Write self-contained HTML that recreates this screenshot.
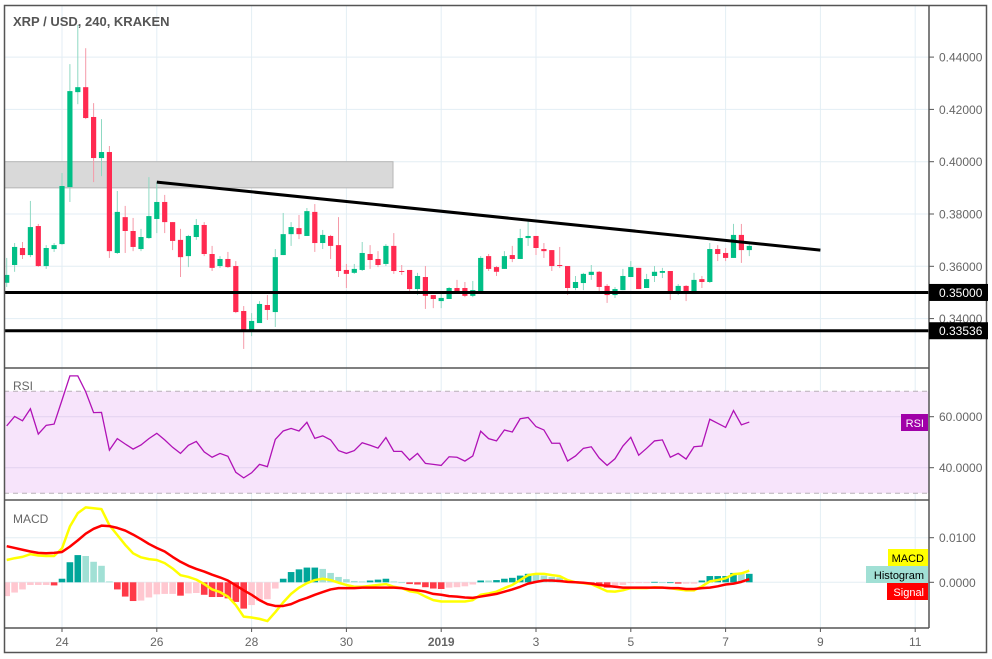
<!DOCTYPE html>
<html><head><meta charset="utf-8"><style>
html,body{margin:0;padding:0;background:#fff;}
svg{display:block;font-family:"Liberation Sans",sans-serif;}
</style></head><body>
<svg id="chart" width="992" height="659" viewBox="0 0 992 659" xmlns="http://www.w3.org/2000/svg">
<defs>
<clipPath id="cMain"><rect x="5" y="6" width="924" height="362"/></clipPath>
<clipPath id="cRsi"><rect x="5" y="369" width="924" height="131"/></clipPath>
<clipPath id="cMacd"><rect x="5" y="501" width="924" height="127"/></clipPath>
</defs>
<rect x="0" y="0" width="992" height="659" fill="#fff"/>
<g id="grid"></g>
<g id="mainPane" clip-path="url(#cMain)"></g>
<g id="rsiPane" clip-path="url(#cRsi)"></g>
<g id="macdPane" clip-path="url(#cMacd)"></g>
<g id="frame" fill="none" stroke="#555" stroke-width="1.5">
<rect x="4.5" y="5.5" width="982" height="647"/>
<line x1="929" y1="5" x2="929" y2="628"/>
<line x1="4" y1="368" x2="929" y2="368"/>
<line x1="4" y1="500" x2="929" y2="500"/>
<line x1="4" y1="628" x2="929" y2="628"/>
</g>
<text x="13" y="26" font-size="13" font-weight="bold" fill="#555">XRP / USD, 240, KRAKEN</text>
<text x="13" y="390" font-size="12" fill="#666">RSI</text>
<text x="13" y="523" font-size="12" fill="#666">MACD</text>
<g id="axes"></g>
</svg>
<script>
// ---- price data (4h candles) ----
const opens=[.3537,.3605,.3670,.3643,.3754,.3601,.3666,.3685,.3903,.4266,.4285,.4171,.4014,.4037,.3651,.3788,.3735,.3666,.3708,.3781,.3846,.3769,.3701,.3639,.3712,.3758,.3647,.3601,.3628,.3601,.3429,.3356,.3383,.3452,.3425,.3643,.3723,.3746,.3716,.3808,.3689,.3716,.3681,.3586,.3575,.3586,.3647,.3628,.3609,.3678,.3582,.3586,.3513,.3559,.3490,.3467,.3475,.3517,.3517,.3487,.3505,.3639,.3597,.3590,.3643,.3628,.3708,.3716,.3666,.3662,.3605,.3601,.3517,.3536,.3567,.3579,.3525,.3490,.3509,.3559,.3594,.3517,.3563,.3575,.3582,.3502,.3525,.3494,.3551,.3540,.3666,.3651,.3632,.3720,.3662];
const highs=[.3632,.3689,.3693,.3850,.3762,.3681,.3689,.3957,.4373,.4523,.4434,.4224,.4163,.4060,.3888,.3831,.3785,.3743,.3941,.3922,.3873,.3769,.3743,.3720,.3781,.3769,.3678,.3639,.3655,.3620,.3448,.3421,.3467,.3490,.3666,.3804,.3769,.3796,.3823,.3838,.3739,.3720,.3788,.3609,.3609,.3693,.3681,.3658,.3685,.3727,.3605,.3586,.3575,.3601,.3490,.3494,.3521,.3548,.3540,.3544,.3639,.3647,.3601,.3658,.3678,.3743,.3777,.3716,.3689,.3662,.3674,.3601,.3563,.3575,.3605,.3582,.3532,.3521,.3590,.3620,.3594,.3571,.3601,.3594,.3582,.3532,.3528,.3575,.3563,.3689,.3681,.3670,.3762,.3762,.3689];
const lows=[.3521,.3579,.3628,.3635,.3598,.3590,.3655,.3682,.3846,.4220,.4163,.3922,.3945,.3632,.3647,.3651,.3658,.3658,.3705,.3727,.3727,.3662,.3559,.3597,.3701,.3639,.3582,.3594,.3594,.3421,.3284,.3333,.3383,.3395,.3368,.3643,.3678,.3704,.3716,.3655,.3666,.3628,.3559,.3517,.3571,.3582,.3590,.3597,.3601,.3571,.3567,.3498,.3490,.3437,.3440,.3440,.3475,.3498,.3482,.3482,.3502,.3582,.3563,.3590,.3616,.3628,.3678,.3643,.3632,.3582,.3594,.3490,.3509,.3509,.3548,.3505,.3460,.3479,.3509,.3559,.3513,.3517,.3540,.3555,.3471,.3490,.3467,.3494,.3517,.3536,.3620,.3620,.3632,.3613,.3639];
const closes=[.3567,.3674,.3643,.3750,.3601,.3670,.3681,.3907,.4270,.4285,.4167,.4014,.4037,.3658,.3808,.3735,.3674,.3712,.3792,.3846,.3769,.3697,.3635,.3716,.3758,.3647,.3594,.3628,.3597,.3425,.3353,.3391,.3456,.3433,.3635,.3723,.3750,.3723,.3811,.3689,.3720,.3678,.3582,.3571,.3590,.3651,.3624,.3605,.3678,.3582,.3579,.3513,.3563,.3487,.3475,.3479,.3517,.3505,.3487,.3509,.3632,.3590,.3579,.3639,.3628,.3708,.3716,.3670,.3658,.3601,.3601,.3517,.3540,.3571,.3579,.3521,.3490,.3513,.3563,.3597,.3513,.3551,.3579,.3582,.3505,.3525,.3494,.3548,.3540,.3666,.3647,.3632,.3720,.3662,.3678];
// ---- RSI ----
const rsiValues=[56.4,60.1,58.4,63.1,53.2,56.6,57.1,66.5,76.0,76.0,69.8,61.6,61.7,46.9,51.4,49.3,47.3,48.9,51.4,53.5,50.9,48.0,45.6,48.8,50.3,46.2,44.1,45.6,44.5,38.2,36.0,38.0,41.3,40.4,51.1,54.4,55.4,54.4,57.8,51.5,52.5,50.9,46.7,45.6,46.7,49.8,48.8,47.7,51.8,46.4,46.4,43.0,45.6,41.7,41.3,40.9,44.3,44.1,42.6,44.6,54.3,51.4,50.5,54.8,54.0,59.2,59.7,56.1,54.8,49.6,49.6,42.6,44.6,47.6,48.2,43.8,40.9,43.5,48.5,51.9,44.9,47.6,50.5,50.9,44.1,45.6,43.4,48.2,48.5,59.0,57.4,55.8,62.4,56.8,57.9];
// ---- MACD (thousandths) ----
const macdMilli=[5.0,5.4,5.7,6.3,6.0,5.9,5.9,7.6,12.5,15.5,16.8,16.6,16.4,12.8,10.6,8.4,6.5,5.6,5.2,5.0,4.3,3.1,1.6,1.2,0.6,-0.4,-1.6,-2.2,-3.2,-5.1,-7.7,-7.9,-8.2,-8.7,-6.7,-4.5,-2.6,-1.2,-0.2,0.5,0.8,0.5,-0.1,-0.6,-1.0,-1.0,-0.8,-0.6,-0.4,-1.0,-1.3,-2.0,-2.3,-3.2,-4.0,-4.3,-4.3,-4.3,-4.3,-4.0,-2.8,-2.5,-2.1,-1.3,-0.6,0.5,1.6,1.9,1.9,1.6,1.4,0.5,0.0,-0.2,-0.4,-1.2,-2.0,-2.1,-1.8,-1.3,-1.3,-1.3,-1.1,-1.2,-1.3,-1.6,-1.8,-1.8,-0.9,0.2,0.5,0.9,1.8,2.0,2.6];
const signalMilli=[8.1,7.7,7.3,6.9,6.6,6.5,6.6,6.8,8.0,9.4,10.9,12.0,12.7,12.6,12.2,11.6,10.7,9.7,8.6,7.7,6.9,5.7,4.6,3.7,3.0,2.4,1.7,1.1,0.4,-0.7,-1.8,-2.8,-4.0,-4.9,-5.3,-5.3,-4.9,-4.1,-3.5,-2.8,-2.2,-1.6,-1.3,-1.3,-1.3,-1.2,-1.2,-1.2,-1.2,-1.2,-1.3,-1.6,-1.8,-2.1,-2.6,-2.8,-3.1,-3.2,-3.4,-3.5,-3.2,-2.9,-2.6,-2.1,-1.6,-1.0,-0.3,0.1,0.4,0.4,0.3,0.1,0.0,-0.1,-0.3,-0.6,-0.8,-1.0,-1.2,-1.2,-1.2,-1.2,-1.2,-1.2,-1.3,-1.3,-1.5,-1.5,-1.3,-1.2,-0.9,-0.5,-0.3,0.1,0.7];
// ---- axes ----
const priceTicks=[0.34,0.36,0.38,0.40,0.42,0.44];
const priceTickLabels=["0.34000","0.36000","0.38000","0.40000","0.42000","0.44000"];
const dateTickIdx=[7,19,31,43,55,67,79,91,103,115];
const dateTickLabels=["24","26","28","30","2019","3","5","7","9","11"];
const levelPrices=[0.35,0.33536];
const levelLabels=["0.35000","0.33536"];
const trendIdx=[19,103];
const trendPrices=[0.3922,0.3662];
const zoneIdx=[-1,48.9];
const zonePrices=[0.4000,0.3900];
const rsiTicks=[60,40];
const rsiTickLabels=["60.0000","40.0000"];
const macdTicks=[10,0];
const macdTickLabels=["0.0100","0.0000"];

const NS="http://www.w3.org/2000/svg";
function mk(tag,attrs,parent){const e=document.createElementNS(NS,tag);for(const k in attrs)e.setAttribute(k,attrs[k]);parent.appendChild(e);return e;}
const X=i=>6.7+7.9*i;
const YP=p=>214-(p-0.38)*2615;
const YR=v=>416.7-(v-60)*2.55;
const YM=m=>582.3-m*4.46;

const grid=document.getElementById('grid');
dateTickIdx.forEach(i=>{const l=mk('line',{x1:X(i),y1:5,x2:X(i),y2:628,stroke:'#e3eef4','stroke-width':1},grid);

});
priceTicks.forEach(p=>{const l=mk('line',{x1:4,y1:YP(p),x2:929,y2:YP(p),stroke:'#e3eef4','stroke-width':1},grid);

});
macdTicks.forEach(m=>{const l=mk('line',{x1:4,y1:YM(m),x2:929,y2:YM(m),stroke:'#e3eef4','stroke-width':1},grid);

});

const main=document.getElementById('mainPane');
// resistance zone
{const r=mk('rect',{x:X(zoneIdx[0]),y:YP(zonePrices[0]),width:X(zoneIdx[1])-X(zoneIdx[0]),height:YP(zonePrices[1])-YP(zonePrices[0]),fill:'#d9d9d9',stroke:'#b5b5b5','stroke-width':1},main);

}
for(let i=0;i<opens.length;i++){
 const up=closes[i]>=opens[i];
 const g=mk('g',{},main);
 
 
 mk('line',{x1:X(i),x2:X(i),y1:YP(highs[i]),y2:YP(lows[i]),stroke:up?'#8fd9c3':'#f59aa8','stroke-width':1},g);
 const t=YP(Math.max(opens[i],closes[i])),b=YP(Math.min(opens[i],closes[i]));
 mk('rect',{x:X(i)-2.6,y:t,width:5.2,height:Math.max(1,b-t),fill:up?'#00bf86':'#ff2a50'},g);
}
{const l=mk('line',{x1:X(trendIdx[0]),y1:YP(trendPrices[0]),x2:X(trendIdx[1]),y2:YP(trendPrices[1]),stroke:'#000','stroke-width':3},main);

}
levelPrices.forEach(p=>{const l=mk('line',{x1:4,y1:YP(p),x2:929,y2:YP(p),stroke:'#000','stroke-width':3},main);

});

// RSI
const rsi=document.getElementById('rsiPane');
mk('rect',{x:4,y:YR(70),width:925,height:YR(30)-YR(70),fill:'#f7e4fb'},rsi);
rsiTicks.forEach(v=>mk('line',{x1:4,x2:929,y1:YR(v),y2:YR(v),stroke:'#e2d2f0','stroke-width':1},rsi));
[70,30].forEach(v=>{const l=mk('line',{x1:4,x2:929,y1:YR(v),y2:YR(v),stroke:'#b8b0b8','stroke-width':1,'stroke-dasharray':'5,4'},rsi);

});
{const pl=mk('polyline',{points:rsiValues.map((v,i)=>X(i)+','+YR(v)).join(' '),fill:'none',stroke:'#b012b6','stroke-width':1.3},rsi);

}

// MACD
const macd=document.getElementById('macdPane');
for(let i=0;i<macdMilli.length;i++){
 const h=macdMilli[i]-signalMilli[i];
 const prev=i>0?macdMilli[i-1]-signalMilli[i-1]:h;
 let col;
 if(h>=0) col=h>=prev?'#00a69a':'#a1e0d5'; else col=h<prev?'#ff3a48':'#ffc7d0';
 const y0=YM(0),y1=YM(h);
 const r=mk('rect',{x:X(i)-3.3,y:Math.min(y0,y1),width:6.6,height:Math.max(0.8,Math.abs(y1-y0)),fill:col},macd);
 
 
}
{const pl=mk('polyline',{points:macdMilli.map((v,i)=>X(i)+','+YM(v)).join(' '),fill:'none',stroke:'#ffff00','stroke-width':2.5,'stroke-linejoin':'round'},macd);

}
{const pl=mk('polyline',{points:signalMilli.map((v,i)=>X(i)+','+YM(v)).join(' '),fill:'none',stroke:'#ff0000','stroke-width':2.5,'stroke-linejoin':'round'},macd);

}

// axes labels
const ax=document.getElementById('axes');
function tick(y,label,name){
 mk('line',{x1:929,x2:934,y1:y,y2:y,stroke:'#555','stroke-width':1},ax);
 const t=mk('text',{x:939,y:y+4.5,'font-size':12,fill:'#666'},ax);
 t.textContent=label;
 
 
}
priceTicks.forEach((p,k)=>tick(YP(p),priceTickLabels[k],'price-tick-label'));
levelPrices.forEach((p,k)=>{
 mk('rect',{x:929,y:YP(p)-8.5,width:59,height:17,fill:'#000'},ax);
 const t=mk('text',{x:939,y:YP(p)+4.5,'font-size':12,fill:'#fff'},ax);
 t.textContent=levelLabels[k];
 
 
});
rsiTicks.forEach((v,k)=>tick(YR(v),rsiTickLabels[k],'rsi-tick-label'));
macdTicks.forEach((v,k)=>tick(YM(v),macdTickLabels[k],'macd-tick-label'));
dateTickIdx.forEach((i,k)=>{
 mk('line',{x1:X(i),x2:X(i),y1:628,y2:632,stroke:'#555','stroke-width':1},ax);
 const t=mk('text',{x:X(i),y:646,'font-size':12,fill:'#666','text-anchor':'middle','font-weight':dateTickLabels[k]==='2019'?'bold':'normal'},ax);
 t.textContent=dateTickLabels[k];
 
 
});
// pane legend badges
function badge(x,y,w,h,bg,fg,txt,name){
 const g=mk('g',{},ax);
 
 
 mk('rect',{x:x,y:y,width:w,height:h,fill:bg},g);
 const t=mk('text',{x:x+w-4,y:y+h-4,'font-size':11,fill:fg,'text-anchor':'end'},g);
 t.textContent=txt;
}
badge(901,414,27,17,'#a000a8','#fff','RSI','rsi-badge');
badge(888,549,40,17,'#ffff00','#000','MACD','macd-badge');
badge(866,566,62,17,'#a1e0d5','#000','Histogram','histogram-badge');
badge(887,583,41,17,'#ff0000','#fff','Signal','signal-badge');
</script>
</body></html>
